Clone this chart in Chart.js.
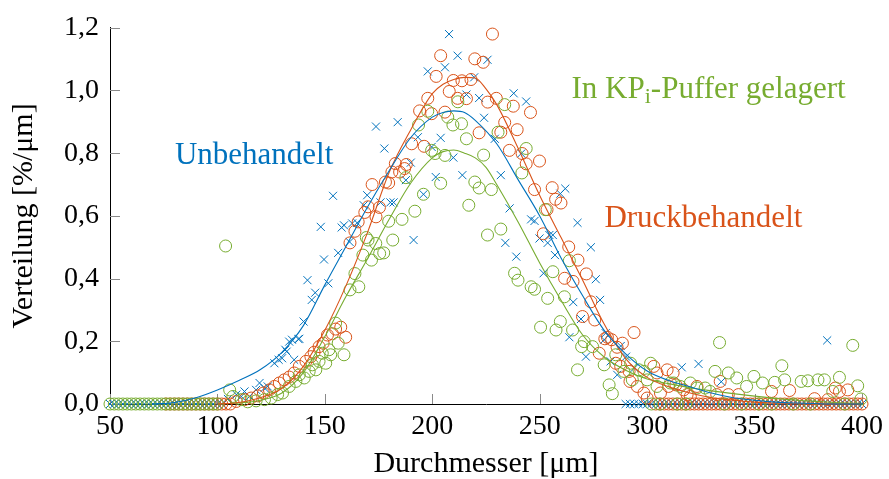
<!DOCTYPE html>
<html>
<head>
<meta charset="utf-8">
<script src="https://cdn.jsdelivr.net/npm/chart.js@4/dist/chart.umd.min.js"></script>
<style>
html,body{margin:0;padding:0;background:#fff;}
#wrap{width:889px;height:479px;}
</style>
</head>
<body>
<div id="wrap"><canvas id="c" width="889" height="479"></canvas></div>
<script>
// ---------- data ----------
const xTicks = [50, 100, 150, 200, 250, 300, 350, 400];
const yTicks = [0, 0.2, 0.4, 0.6, 0.8, 1.0, 1.2];

// Unbehandelt (blue crosses)
const unbehandeltX = [104.9,108.8,111.1,112.6,114.9,118.0,119.6,121.9,123.4,126.5,128.5,130.1,131.6,132.2,133.4,134.7,135.7,137.7,138.1,140.1,141.9,143.9,145.5,148.1,149.6,151.6,153.8,156.2,157.8,158.9,161.5,162.7,165.0,168.1,169.7,173.8,175.9,177.7,180.5,182.0,183.9,187.7,190.0,191.3,193.3,195.9,197.9,199.7,201.6,203.9,205.9,207.8,209.8,211.8,214.0,215.9,219.5,221.8,224.1,225.7,229.1,231.9,234.0,236.0,237.9,239.1,241.4,243.7,246.0,247.6,249.9,251.8,253.7,254.5,256.1,257.1,259.6,261.9,263.8,265.6,267.6,269.2,271.5,273.8,276.1,278.1,280.0,280.7,283.0,286.1,287.7,290.2,294.1,316.1,323.9,334.5,383.8];
const unbehandeltY = [0.016,0.030,0.024,0.040,0.024,0.045,0.067,0.051,0.056,0.130,0.141,0.146,0.173,0.167,0.199,0.205,0.141,0.207,0.208,0.263,0.395,0.332,0.355,0.565,0.461,0.385,0.664,0.482,0.563,0.570,0.517,0.576,0.578,0.634,0.666,0.885,0.643,0.815,0.643,0.643,0.899,0.714,0.770,0.523,0.851,0.669,1.061,0.820,0.724,0.849,1.074,1.180,0.786,1.111,0.730,0.987,1.042,0.976,0.913,1.098,0.846,0.730,0.514,0.624,0.991,0.470,0.799,0.965,0.589,0.584,0.528,0.417,0.514,0.539,0.539,0.475,0.671,0.687,0.213,0.325,0.578,0.271,0.151,0.500,0.398,0.332,0.205,0.226,0.136,0.093,0.185,0.151,0.115,0.117,0.128,0.071,0.203];
const unbehandeltNullX = [50,52,54,56,58,60,62,64,66,68,70,72,74,76,78,80,82,84,86,88,90,92,94,96,98,100,102,290,292,294,296,298,300,302,304,306,308,310,312,314,316,318,320,322,324,326,328,330,332,334,336,338,340,342,344,346,348,350,352,354,356,358,360,362,364,366,368,370,372,374,376,378,380,382,384,386,388,390,392,394,396,398,400];

// Druckbehandelt (orange circles)
const druckX = [108.8,112.6,115.7,118.8,121.4,124.2,126.5,128.8,131.1,133.4,135.7,138.1,141.2,143.5,145.0,147.3,149.2,151.2,153.5,155.0,157.4,159.7,161.7,164.0,165.5,168.6,170.1,172.0,173.8,175.4,178.2,179.7,181.2,182.8,184.8,187.1,187.9,190.4,194.1,196.2,197.9,199.7,201.8,203.9,205.9,207.9,209.8,211.8,213.8,215.9,218.0,219.8,221.8,223.7,225.8,228.0,229.8,231.9,233.7,235.9,237.7,239.5,241.8,243.7,245.7,247.6,249.9,251.7,253.4,255.8,257.4,259.9,261.6,263.5,265.5,267.8,269.9,271.7,273.8,275.6,277.7,280.3,281.5,283.5,285.4,286.0,287.7,288.5,291.6,292.0,293.9,295.4,298.5,300.0,303.1,304.6,306.2,309.3,310.0,312.1,313.4,317.0,318.6,320.1,323.2,332.4,334.0,337.8,342.5,357.9,366.3,377.9,384.1,387.6,389.5,393.4];
const druckY = [0.008,0.014,0.019,0.026,0.035,0.045,0.056,0.067,0.077,0.086,0.099,0.120,0.136,0.151,0.165,0.183,0.194,0.220,0.224,0.239,0.245,0.213,0.514,0.551,0.581,0.611,0.629,0.700,0.597,0.627,0.708,0.705,0.740,0.767,0.740,0.751,0.764,0.830,0.935,0.822,0.975,0.926,1.045,1.111,0.931,0.997,1.032,0.975,1.031,0.974,1.035,1.101,0.865,1.090,0.963,1.180,0.975,0.867,0.898,0.809,0.950,0.875,0.799,0.766,0.930,0.684,0.775,0.543,0.620,0.690,0.653,0.641,0.401,0.501,0.391,0.459,0.279,0.415,0.326,0.268,0.162,0.208,0.213,0.205,0.130,0.181,0.120,0.194,0.104,0.072,0.228,0.056,0.035,0.019,0.120,0.099,0.035,0.109,0.056,0.099,0.061,0.045,0.030,0.024,0.056,0.030,0.072,0.030,0.030,0.040,0.043,0.017,0.014,0.051,0.040,0.045];
const druckNullX = [76,78,80,82,84,86,88,90,92,94,96,98,100,102,104,106,304,306,308,310,312,314,316,318,320,322,324,326,328,330,332,334,336,338,340,342,344,346,348,350,352,354,356,358,360,362,364,366,368,370,372,374,376,378,380,382,384,386,388,390,392,394,396,398,400];

// In KPi-Puffer gelagert (green circles)
const pufferX = [103.8,105.7,107.2,111.1,114.1,118.0,121.9,125.0,128.0,130.3,133.4,136.5,138.1,140.4,142.7,144.2,145.8,147.3,148.8,150.4,151.9,152.7,155.0,156.2,158.9,161.7,164.0,165.8,167.7,169.3,170.1,171.7,173.7,175.5,177.4,179.7,181.6,185.9,187.7,191.9,193.6,195.9,197.9,199.7,201.3,203.9,205.9,207.2,209.6,211.9,213.6,215.9,217.0,219.8,221.8,223.9,225.7,227.5,230.6,231.9,233.7,238.3,239.9,241.7,243.7,246.0,247.6,250.4,252.6,253.7,256.1,257.6,259.6,261.5,263.8,265.3,267.6,269.5,270.7,274.6,280.0,282.3,283.8,285.4,289.2,292.3,293.1,296.2,298.5,300.0,301.6,304.6,310.8,312.4,315.4,320.1,323.2,327.0,329.3,331.6,333.7,337.8,341.7,346.3,349.7,353.7,359.4,362.7,364.0,371.7,374.8,379.5,382.5,386.4,389.5,395.7,398.0,399.5];
const pufferY = [0.504,0.045,0.024,0.014,0.007,0.010,0.014,0.019,0.030,0.035,0.056,0.072,0.093,0.083,0.104,0.125,0.109,0.136,0.162,0.130,0.173,0.157,0.258,0.194,0.157,0.364,0.416,0.374,0.475,0.531,0.523,0.459,0.512,0.480,0.482,0.583,0.523,0.589,0.722,0.615,0.890,0.669,0.934,0.809,0.799,0.704,0.793,0.915,0.890,0.964,0.894,0.846,0.634,0.708,0.689,0.794,0.539,0.684,0.867,0.558,0.955,0.417,0.395,0.737,0.815,0.374,0.366,0.245,0.620,0.337,0.422,0.236,0.263,0.342,0.457,0.236,0.109,0.183,0.199,0.183,0.125,0.061,0.033,0.157,0.104,0.130,0.077,0.109,0.104,0.077,0.130,0.056,0.067,0.067,0.056,0.067,0.051,0.051,0.040,0.104,0.196,0.099,0.083,0.056,0.088,0.067,0.069,0.122,0.077,0.072,0.074,0.077,0.077,0.040,0.085,0.187,0.058,0.016];
const pufferNullX = [50,52,54,56,58,60,62,64,66,68,70,72,74,76,78,80,82,84,86,88,90,92,94,96,98,100,302,306,314,318,336,344,352,358,368,376,392];

// fitted curves
const fitUnbehandeltX = [70,80,90,100,110,120,130,140,150,160,170,180,190,200,205,210,215,220,230,240,250,260,270,280,290,300,310,320,330,340,350,360,370,380,390,400];
const fitUnbehandeltY = [0,0.005,0.02,0.045,0.075,0.11,0.165,0.25,0.38,0.505,0.63,0.745,0.85,0.915,0.93,0.935,0.93,0.905,0.83,0.715,0.6,0.465,0.345,0.235,0.16,0.105,0.075,0.055,0.035,0.02,0.012,0.006,0.003,0.001,0,0];
const fitDruckX = [100,110,120,130,140,150,160,170,180,190,200,205,210,215,220,225,230,240,250,260,270,280,290,300,310,320,330,340,350,360,370,380,390,400];
const fitDruckY = [0,0.005,0.02,0.05,0.12,0.235,0.38,0.55,0.74,0.875,0.99,1.02,1.035,1.042,1.04,1.005,0.955,0.815,0.665,0.53,0.395,0.255,0.145,0.085,0.055,0.035,0.02,0.012,0.006,0.003,0.001,0,0,0];
const fitPufferX = [100,110,120,130,140,150,160,170,180,190,200,205,210,215,220,225,230,240,250,260,270,280,290,300,310,320,330,340,350,360,370,380,390,400];
const fitPufferY = [0,0.003,0.012,0.035,0.1,0.215,0.345,0.465,0.59,0.705,0.785,0.805,0.81,0.8,0.785,0.755,0.7,0.58,0.45,0.33,0.22,0.15,0.108,0.08,0.065,0.052,0.042,0.033,0.025,0.018,0.012,0.008,0.004,0.002];

// ---------- styles ----------
const BLAU = '#0072BD', ORANGE = '#D95319', GRUEN = '#77AC30';
const SERIF = "'Liberation Serif', 'Times New Roman', serif";

function pts(xs, ys) { return xs.map((x, i) => ({x: x, y: ys[i]})); }
function nullPts(xs) { return xs.map(x => ({x: x, y: 0})); }

const labels = [
  {parts: [['Unbehandelt', 0]], x: 80.2, y: 0.765, color: BLAU},
  {parts: [['In KP', 0], ['i', 1], ['-Puffer gelagert', 0]], x: 264.8, y: 0.977, color: GRUEN},
  {parts: [['Druckbehandelt', 0]], x: 280.1, y: 0.565, color: ORANGE}
];

const innenTicks = {
  id: 'innenTicks',
  beforeDatasetsDraw(chart) {
    const {ctx, chartArea: a, scales: {x, y}} = chart;
    ctx.save();
    ctx.strokeStyle = '#8a8a8a';
    ctx.lineWidth = 1;
    ctx.beginPath();
    xTicks.forEach(v => {
      const px = Math.round(x.getPixelForValue(v)) + 0.5;
      ctx.moveTo(px, a.bottom); ctx.lineTo(px, a.bottom - 10);
    });
    yTicks.forEach(v => {
      const py = Math.round(y.getPixelForValue(v)) + 0.5;
      ctx.moveTo(a.left, py); ctx.lineTo(a.left + 10, py);
    });
    ctx.stroke();
    ctx.restore();
  }
};

const beschriftung = {
  id: 'beschriftung',
  afterDatasetsDraw(chart) {
    const {ctx, scales: {x, y}} = chart;
    ctx.save();
    ctx.textBaseline = 'alphabetic';
    ctx.textAlign = 'left';
    labels.forEach(l => {
      let px = x.getPixelForValue(l.x);
      const py = y.getPixelForValue(l.y);
      ctx.fillStyle = l.color;
      l.parts.forEach(([t, sub]) => {
        ctx.font = (sub ? '22px ' : '31px ') + SERIF;
        ctx.fillText(t, px, py + (sub ? 5 : 0));
        px += ctx.measureText(t).width;
      });
    });
    ctx.restore();
  }
};

const markerBase = {showLine: false, clip: false, pointBackgroundColor: 'rgba(0,0,0,0)', pointBorderWidth: 1, pointHoverRadius: 0};
const lineBase = {showLine: true, pointRadius: 0, borderWidth: 1.1, clip: false, fill: false, cubicInterpolationMode: 'monotone'};

new Chart(document.getElementById('c'), {
  type: 'scatter',
  data: {
    datasets: [
      Object.assign({label: 'Fit Unbehandelt', data: pts(fitUnbehandeltX, fitUnbehandeltY), borderColor: BLAU, order: 0}, lineBase),
      Object.assign({label: 'Fit Druckbehandelt', data: pts(fitDruckX, fitDruckY), borderColor: ORANGE, order: 0}, lineBase),
      Object.assign({label: 'Fit Puffer', data: pts(fitPufferX, fitPufferY), borderColor: GRUEN, order: 0}, lineBase),
      Object.assign({label: 'In KPi-Puffer gelagert', data: pts(pufferX, pufferY).concat(nullPts(pufferNullX)), pointStyle: 'circle', pointRadius: 6, pointBorderColor: GRUEN, borderColor: GRUEN, order: 1}, markerBase),
      Object.assign({label: 'Druckbehandelt', data: pts(druckX, druckY).concat(nullPts(druckNullX)), pointStyle: 'circle', pointRadius: 6, pointBorderColor: ORANGE, borderColor: ORANGE, order: 2}, markerBase),
      Object.assign({label: 'Unbehandelt', data: pts(unbehandeltX, unbehandeltY).concat(nullPts(unbehandeltNullX)), pointStyle: 'crossRot', pointRadius: 5.7, pointBorderColor: BLAU, borderColor: BLAU, order: 3}, markerBase)
    ]
  },
  options: {
    responsive: false,
    animation: false,
    devicePixelRatio: 1,
    layout: {padding: {left: 0, right: 23, top: 27, bottom: 0}},
    plugins: {legend: {display: false}, tooltip: {enabled: false}},
    scales: {
      x: {
        type: 'linear', min: 50, max: 400,
        afterFit(s) { s.height = 75; },
        afterBuildTicks(s) { s.ticks = xTicks.map(v => ({value: v})); },
        grid: {display: false, drawTicks: false},
        border: {display: true, color: '#000', width: 1},
        ticks: {color: '#000', padding: 6, maxRotation: 0, autoSkip: false, font: {family: SERIF, size: 28}},
        title: {display: true, text: 'Durchmesser [μm]', color: '#000', padding: {top: 1, bottom: 0}, font: {family: SERIF, size: 30, lineHeight: 1}}
      },
      y: {
        type: 'linear', min: 0, max: 1.2,
        afterFit(s) { s.width = 110; },
        afterBuildTicks(s) { s.ticks = yTicks.map(v => ({value: v})); },
        grid: {display: false, drawTicks: false},
        border: {display: true, color: '#000', width: 1},
        ticks: {color: '#000', padding: 11, autoSkip: false, font: {family: SERIF, size: 28},
          callback: v => Number(v).toFixed(1).replace('.', ',')},
        title: {display: true, text: 'Verteilung [%/μm]', color: '#000', padding: {top: 9, bottom: 0}, font: {family: SERIF, size: 30, lineHeight: 1}}
      }
    }
  },
  plugins: [innenTicks, beschriftung]
});
</script>
</body>
</html>
